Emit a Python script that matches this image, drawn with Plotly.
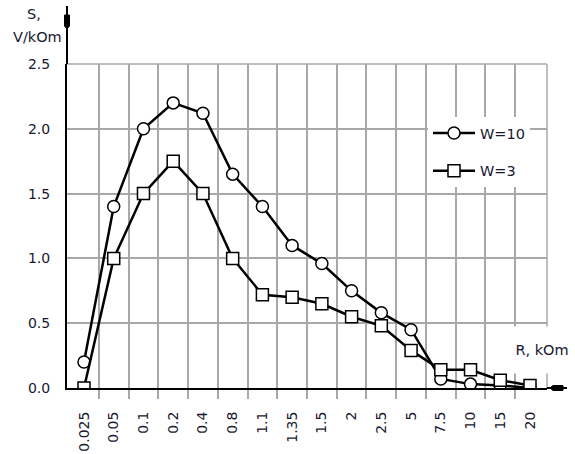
import plotly.graph_objects as go

# Load resistance R (kOm) categories and sensitivity S (V/kOm) for two W values
R_LABELS = ["0.025", "0.05", "0.1", "0.2", "0.4", "0.8", "1.1", "1.35",
            "1.5", "2", "2.5", "5", "7.5", "10", "15", "20"]
S_W10 = [0.20, 1.40, 2.00, 2.20, 2.12, 1.65, 1.40, 1.10,
         0.96, 0.75, 0.58, 0.45, 0.07, 0.03, 0.02, 0.00]
S_W3 = [0.00, 1.00, 1.50, 1.75, 1.50, 1.00, 0.72, 0.70,
        0.65, 0.55, 0.48, 0.29, 0.14, 0.14, 0.06, 0.02]
Y_TICKS = [0.0, 0.5, 1.0, 1.5, 2.0, 2.5]

W, H = 575, 454
L, R, T, B = 67, 28, 64, 66
PW, PH = W - L - R, H - T - B

FONT = "DejaVu Sans"
TXT = "#181830"
GRID = "#a8a8a8"


def px(x):
    return (x - L) / PW


def py(y):
    return (H - B - y) / PH


idx = list(range(len(R_LABELS)))

fig = go.Figure()
fig.add_trace(go.Scatter(
    x=idx, y=S_W10, name="W=10", mode="lines+markers", legendgroup="a",
    line=dict(color="black", width=2.5),
    marker=dict(symbol="circle", size=12, color="white",
                line=dict(color="black", width=1.5)),
))
fig.add_trace(go.Scatter(
    x=idx, y=S_W3, name="W=3", mode="lines+markers", legendgroup="b",
    line=dict(color="black", width=2.5),
    marker=dict(symbol="square", size=12, color="white",
                line=dict(color="black", width=1.5)),
))

n = len(R_LABELS)
pad = 17 / 29.73
fig.update_xaxes(
    range=[-pad, n - 1 + pad], automargin=False,
    tickmode="array", tickvals=idx, ticktext=R_LABELS,
    tickangle=-90, ticks="", showgrid=False, zeroline=False,
    showline=True, linecolor="black", linewidth=2, layer="below traces",
    ticklabelstandoff=16,
    tickfont=dict(family=FONT, size=14, color=TXT),
    minor=dict(tickmode="array", tickvals=[i + 0.5 for i in range(n - 1)],
               showgrid=True, gridcolor=GRID, gridwidth=1.5,
               ticks="outside", ticklen=9, tickcolor=GRID, tickwidth=1.5),
)
fig.update_yaxes(
    range=[0, 2.5], automargin=False, tickmode="array", tickvals=Y_TICKS,
    ticktext=[f"{v:.1f}" for v in Y_TICKS],
    ticks="", showgrid=True, gridcolor=GRID, gridwidth=1.5, zeroline=False,
    showline=True, linecolor="black", linewidth=2, layer="below traces",
    ticklabelstandoff=12,
    tickfont=dict(family=FONT, size=14, color=TXT),
)

shapes = [
    # frame: top and right borders
    dict(type="line", xref="paper", yref="paper", x0=0, y0=1, x1=1, y1=1,
         line=dict(color=GRID, width=1.5), layer="below"),
    dict(type="line", xref="paper", yref="paper", x0=1, y0=0, x1=1, y1=1,
         line=dict(color=GRID, width=1.5), layer="below"),
    # axis extensions with arrows
    dict(type="line", xref="paper", yref="paper", x0=0, y0=1, x1=0, y1=py(6),
         line=dict(color="black", width=2)),
    dict(type="line", xref="paper", yref="paper", x0=1, y0=0, x1=px(567), y1=0,
         line=dict(color="black", width=2)),
    dict(type="path", xref="paper", yref="paper", fillcolor="black",
         line=dict(color="black", width=1),
         path=(f"M {px(64.5)},{py(15)} L {px(69.5)},{py(15)} L {px(69.5)},{py(26)} "
               f"L {px(67)},{py(29)} L {px(64.5)},{py(26)} Z")),
    dict(type="path", xref="paper", yref="paper", fillcolor="black",
         line=dict(color="black", width=1),
         path=(f"M {px(550)},{py(388)} L {px(553)},{py(385.5)} L {px(563)},{py(385.5)} "
               f"L {px(563)},{py(390.5)} L {px(553)},{py(390.5)} Z")),
]

annotations = [
    dict(text="S,", x=px(34), y=py(14), xref="paper", yref="paper",
         xanchor="center", yanchor="middle",
         showarrow=False, font=dict(family=FONT, size=14.5, color=TXT)),
    dict(text="V/kOm", x=px(37), y=py(37), xref="paper", yref="paper",
         xanchor="center", yanchor="middle",
         showarrow=False, font=dict(family=FONT, size=14.5, color=TXT)),
    dict(text="R, kOm", x=px(542), y=py(350), xref="paper", yref="paper",
         xanchor="center", yanchor="middle",
         showarrow=False, width=62, height=44, bgcolor="white",
         font=dict(family=FONT, size=14.5, color=TXT)),
]

fig.update_layout(
    width=W, height=H,
    margin=dict(l=L, r=R, t=T, b=B),
    paper_bgcolor="white", plot_bgcolor="white",
    shapes=shapes, annotations=annotations,
    showlegend=True,
    legend=dict(x=px(428), y=py(117), xanchor="left", yanchor="top",
                bgcolor="white", borderwidth=0, tracegroupgap=16,
                itemwidth=42,
                font=dict(family=FONT, size=14.5, color=TXT)),
)

fig.write_html("out.html")
